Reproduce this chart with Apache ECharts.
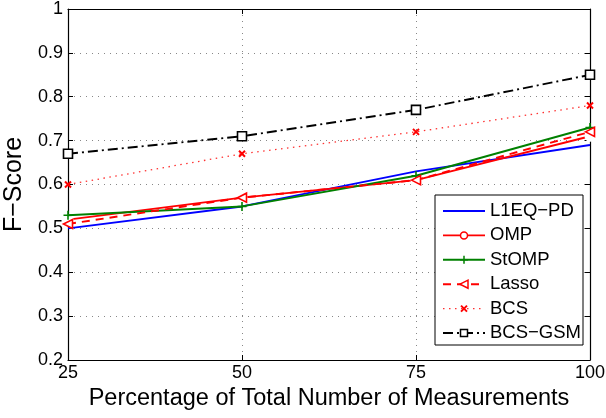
<!DOCTYPE html>
<html><head><meta charset="utf-8">
<script src="https://cdn.jsdelivr.net/npm/echarts@6/dist/echarts.min.js"></script>
<style>html,body{margin:0;padding:0;background:#fff}#c{width:606px;height:418px}</style>
</head><body><div id="c"></div>
<script>
const xValues = [25, 50, 75, 100];
const l1eq = [0.50, 0.55, 0.63, 0.69];
const omp = [0.52, 0.57, 0.61, 0.71];
const stomp = [0.53, 0.55, 0.62, 0.73];
const lasso = [0.51, 0.57, 0.61, 0.72];
const bcs = [0.60, 0.67, 0.72, 0.78];
const bcsgsm = [0.67, 0.71, 0.77, 0.85];
const seriesNames = ['L1EQ\u2212PD', 'OMP', 'StOMP', 'Lasso', 'BCS', 'BCS\u2212GSM'];

const F = 'Liberation Sans, Arial, sans-serif';
const pair = a => a.map((v, i) => [xValues[i], v]);
const PLUS = 'path://M5,0 L5,10 M0,5 L10,5';
const XMARK = 'path://M0,0 L10,10 M10,0 L0,10';
const LTRI = 'path://M0,5 L10,0 L10,10 Z';
const SQ = 'path://M0,0 L10,0 L10,10 L0,10 Z';

// style definitions (not data)
const styles = [
  { color: '#0000ff', dash: 'solid', marker: 'none', width: 1.9 },
  { color: '#ff0000', dash: 'solid', marker: 'circle', width: 1.9 },
  { color: '#008000', dash: 'solid', marker: 'plus', width: 1.9 },
  { color: '#ff0000', dash: [8, 6], marker: 'ltri', width: 1.9 },
  { color: '#ff3030', dash: [1.5, 4.5], marker: 'x', width: 1.3 },
  { color: '#000000', dash: [10, 4, 2, 4], marker: 'square', width: 1.9 }
];
const markerSym = { none: 'none', circle: 'emptyCircle', plus: PLUS, ltri: LTRI, x: XMARK, square: SQ };
const markerSize = { none: 0, circle: 9, plus: 9, ltri: 9, x: 6, square: 9 };
const hollow = { circle: true, ltri: true, square: true };

function mk(i, data) {
  const s = styles[i];
  return {
    name: seriesNames[i], type: 'line', data: pair(data),
    symbol: markerSym[s.marker], symbolSize: markerSize[s.marker], showSymbol: s.marker !== 'none',
    lineStyle: { color: s.color, width: s.width, type: s.dash },
    itemStyle: { color: hollow[s.marker] ? '#fff' : s.color, borderColor: s.marker === 'x' ? '#ff0000' : s.color,
      borderWidth: s.marker === 'x' ? 2 : 1.6 },
    emphasis: { disabled: true }, animation: false, z: 3 + i
  };
}

// custom legend (decoration)
const LG = { x: 435, y: 195, w: 148, h: 150, first: 211, step: 24.4, lx1: 443, lx2: 485, tx: 490 };
const legendEls = [{ type: 'rect', shape: { x: LG.x, y: LG.y, width: LG.w, height: LG.h },
  style: { fill: '#fff', stroke: '#000', lineWidth: 1 }, z: 100 }];
styles.forEach((s, i) => {
  const cy = LG.first + LG.step * i;
  const cx = (LG.lx1 + LG.lx2) / 2;
  const dash = s.dash === 'solid' ? null : s.dash;
  legendEls.push({ type: 'line', shape: { x1: LG.lx1, y1: cy, x2: LG.lx2, y2: cy },
    style: { stroke: s.color, lineWidth: s.width, lineDash: dash }, z: 101 });
  const st = { stroke: s.marker === 'x' ? '#ff0000' : s.color, lineWidth: s.marker === 'x' ? 2 : 1.5, fill: '#fff' };
  if (s.marker === 'circle') legendEls.push({ type: 'circle', shape: { cx, cy, r: 3.5 }, style: st, z: 102 });
  if (s.marker === 'plus') {
    legendEls.push({ type: 'line', shape: { x1: cx - 4, y1: cy, x2: cx + 4, y2: cy }, style: st, z: 102 });
    legendEls.push({ type: 'line', shape: { x1: cx, y1: cy - 4, x2: cx, y2: cy + 4 }, style: st, z: 102 });
  }
  if (s.marker === 'ltri') legendEls.push({ type: 'polygon', shape: { points: [[cx - 4, cy], [cx + 4, cy - 4], [cx + 4, cy + 4]] }, style: st, z: 102 });
  if (s.marker === 'x') {
    legendEls.push({ type: 'line', shape: { x1: cx - 3, y1: cy - 3, x2: cx + 3, y2: cy + 3 }, style: st, z: 102 });
    legendEls.push({ type: 'line', shape: { x1: cx - 3, y1: cy + 3, x2: cx + 3, y2: cy - 3 }, style: st, z: 102 });
  }
  if (s.marker === 'square') legendEls.push({ type: 'rect', shape: { x: cx - 3.5, y: cy - 3.5, width: 7, height: 7 }, style: st, z: 102 });
  legendEls.push({ type: 'text', x: LG.tx, y: cy, z: 102,
    style: { text: seriesNames[i], fontFamily: F, fontSize: 18.5, fill: '#000', verticalAlign: 'middle', textVerticalAlign: 'middle' } });
});

const axisCommon = {
  axisLine: { show: true, lineStyle: { color: '#000', width: 1.2 } },
  axisTick: { show: true, inside: true, length: 5, lineStyle: { color: '#000' } }
};

const chart = echarts.init(document.getElementById('c'));
chart.setOption({
  animation: false,
  grid: { left: 68, right: 16, top: 9, bottom: 58, containLabel: false, outerBoundsMode: 'none' },
  xAxis: [Object.assign({
    type: 'value', min: 25, max: 100, interval: 25,
    name: 'Percentage of Total Number of Measurements', nameLocation: 'middle', nameGap: 27,
    nameTextStyle: { fontFamily: F, fontSize: 23.5, color: '#000' },
    axisLabel: { fontFamily: F, fontSize: 18, color: '#000', margin: 4 },
    splitLine: { show: true, lineStyle: { color: '#888', type: [1, 5], width: 1 } }
  }, axisCommon), Object.assign({
    type: 'value', min: 25, max: 100, interval: 25, position: 'top',
    axisLabel: { show: false }, splitLine: { show: false }
  }, axisCommon)],
  yAxis: [Object.assign({
    type: 'value', min: 0.2, max: 1, interval: 0.1,
    name: 'F\u2212Score', nameLocation: 'middle', nameGap: 39,
    nameTextStyle: { fontFamily: F, fontSize: 25, color: '#000' },
    axisLabel: { fontFamily: F, fontSize: 18, color: '#000', margin: 5,
      formatter: v => String(+v.toFixed(1)) },
    splitLine: { show: true, lineStyle: { color: '#888', type: [1, 5], width: 1 } }
  }, axisCommon), Object.assign({
    type: 'value', min: 0.2, max: 1, interval: 0.1, position: 'right',
    axisLabel: { show: false }, splitLine: { show: false }
  }, axisCommon)],
  graphic: { elements: legendEls },
  series: [mk(0, l1eq), mk(1, omp), mk(2, stomp), mk(3, lasso), mk(4, bcs), mk(5, bcsgsm)]
});
</script></body></html>
